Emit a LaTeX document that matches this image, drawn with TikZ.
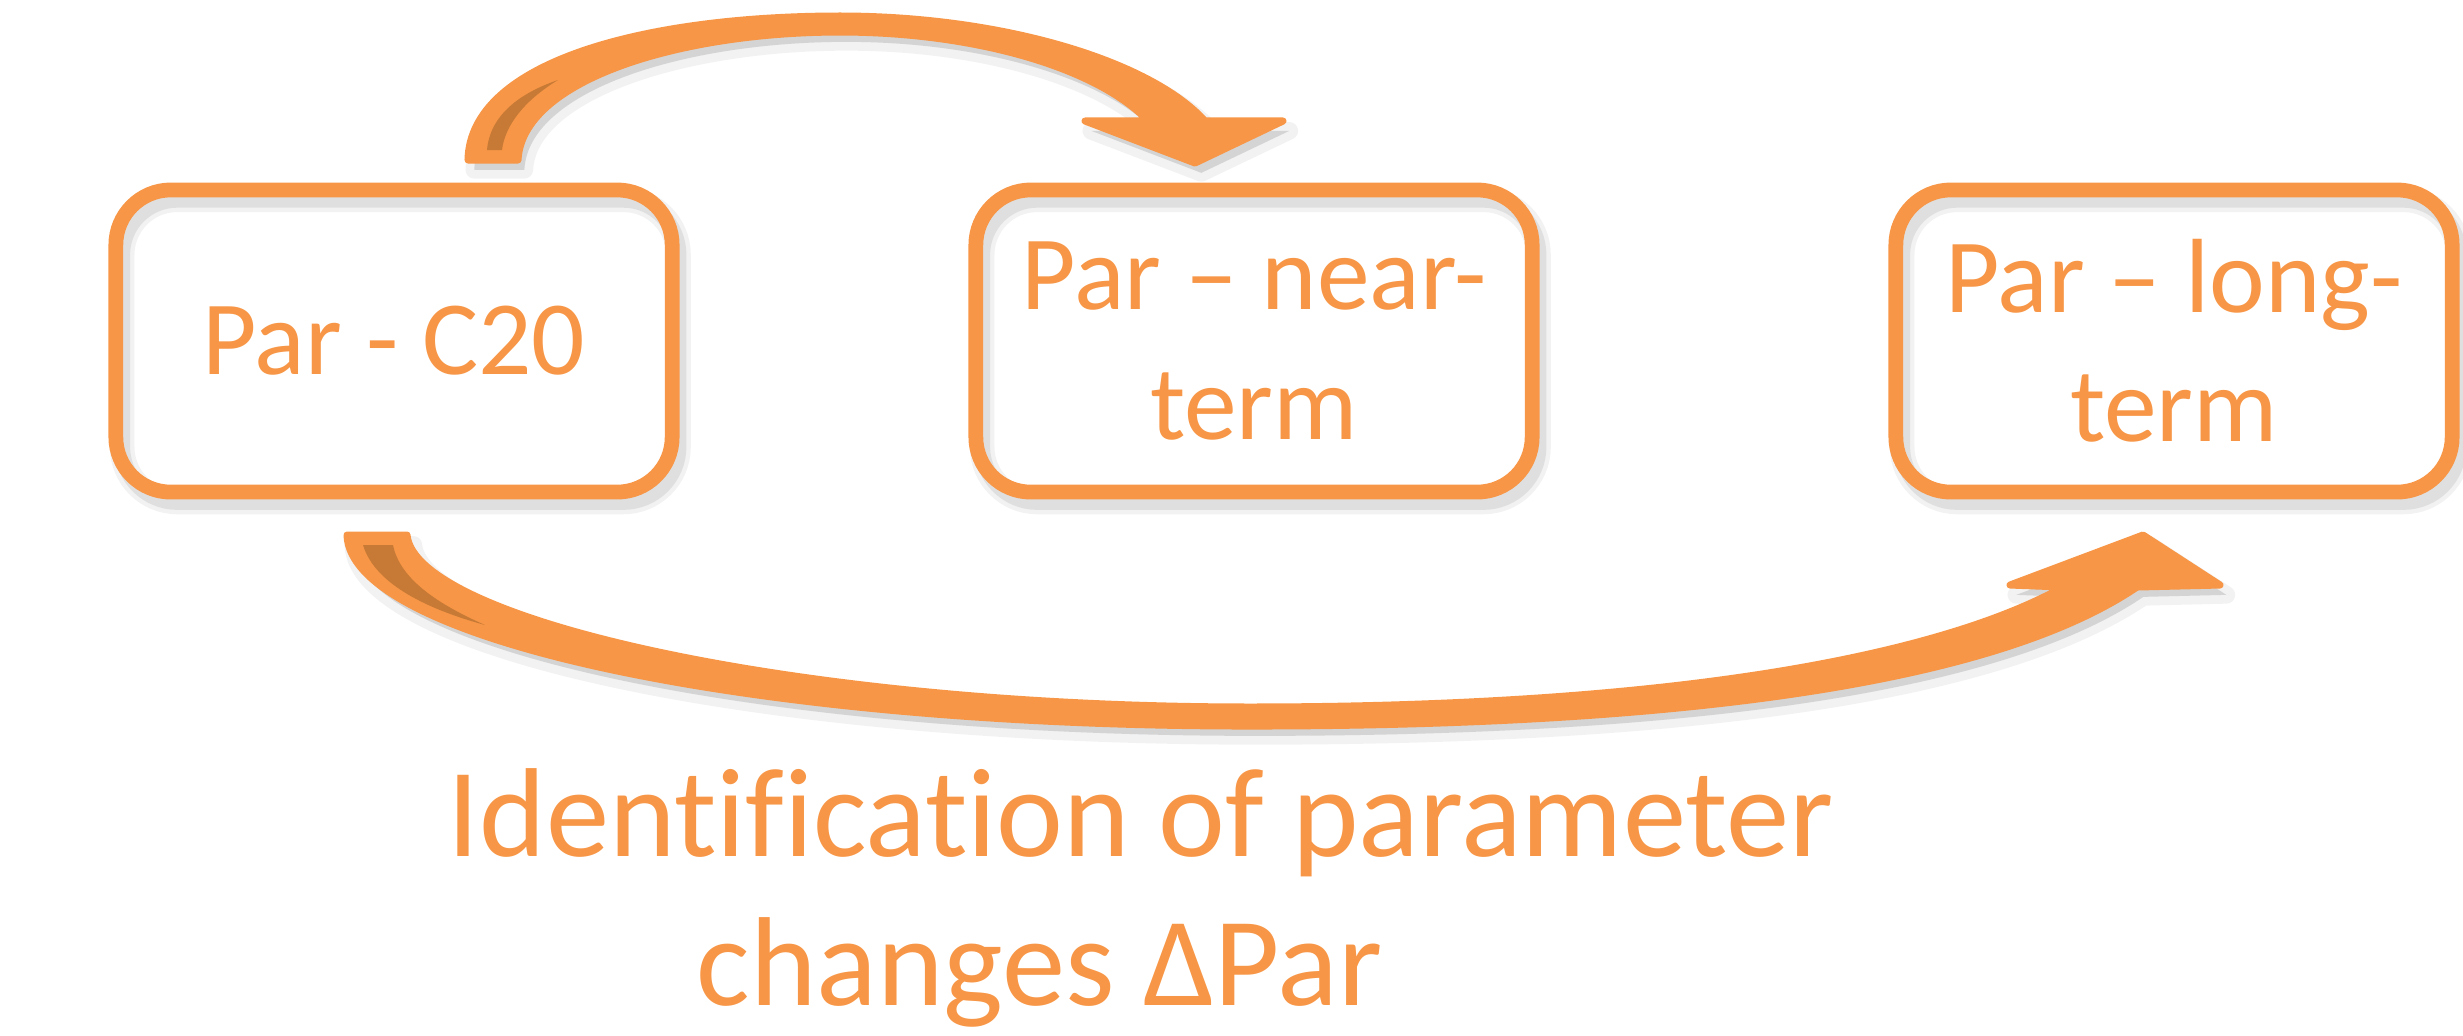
\documentclass[tikz,border=0pt]{standalone}
\usepackage{fontspec}
\setmainfont{Carlito}[Ligatures={CommonOff,ContextualOff}]
\definecolor{accent}{HTML}{F79646}
\definecolor{fold}{HTML}{C77A36}
\begin{document}
\begin{tikzpicture}[x=0.01cm,y=-0.01cm,
  boxshadow/.style={
    preaction={draw=black, opacity=0.05, line width=7pt, transform canvas={xshift=1.8pt,yshift=-2.8pt}},
    preaction={draw=black, opacity=0.08, line width=4.5pt, transform canvas={xshift=1.8pt,yshift=-2.8pt}}},
  box/.style={boxshadow, draw=accent, line width=4.2pt, rounded corners=0.55cm,
    minimum width=5.56cm, minimum height=3.02cm, inner sep=0pt,
    text=accent, align=center, font=\fontsize{30}{36.7}\selectfont},
  arrowshadow/.style={
    preaction={fill=black, draw=black, opacity=0.05, line width=5pt, line join=round, transform canvas={xshift=1.8pt,yshift=-2.8pt}},
    preaction={fill=black, opacity=0.08, transform canvas={xshift=1.8pt,yshift=-2.8pt}}},
  blockarrow/.style={arrowshadow, fill=accent, draw=accent, line width=2pt, line join=round},
  caption/.style={text=accent, inner sep=0pt, font=\fontsize{36}{42}\selectfont}
]
\useasboundingbox (0,0) rectangle (2463,1035);

% boxes
\node[box] (b1) at (394,341) {Par - C20};
\node[box] (b2) at (1254,341) {Par – near-\\term};
\node[box] (b3) at (2174,341) {Par – long-\\term};

% top curved arrow
\path[blockarrow] (468,160) .. controls (470,60) and (650,16) .. (840,16)
  .. controls (1000,16) and (1150,60) .. (1205,121)
  -- (1283,121) -- (1195,163) -- (1085,121) -- (1148,121)
  .. controls (1100,70) and (980,32) .. (840,32)
  .. controls (680,32) and (522,80) .. (518,160) -- cycle;
\fill[fold] (487,150) .. controls (490,115) and (520,93) .. (558,80)
  .. controls (525,100) and (505,125) .. (502,150) -- cycle;

% bottom curved arrow
\path[blockarrow] (347,535) -- (407,535)
  .. controls (415,620) and (800,707) .. (1250,707)
  .. controls (1700,707) and (1950,650) .. (2063,587)
  -- (2010,585) -- (2143,535) -- (2220,585) -- (2137,587)
  .. controls (2000,680) and (1700,726) .. (1250,726)
  .. controls (750,726) and (350,640) .. (347,535) -- cycle;
\fill[fold] (363,545) -- (393,545) .. controls (400,580) and (440,605) .. (485,625)
  .. controls (430,610) and (375,585) .. (363,545) -- cycle;

% caption
\node[caption, anchor=base west] (t1) at (447,856) {Identification of parameter};
\node[caption, anchor=base west] (t2) at (696,1005) {changes ΔPar};
\end{tikzpicture}
\end{document}
